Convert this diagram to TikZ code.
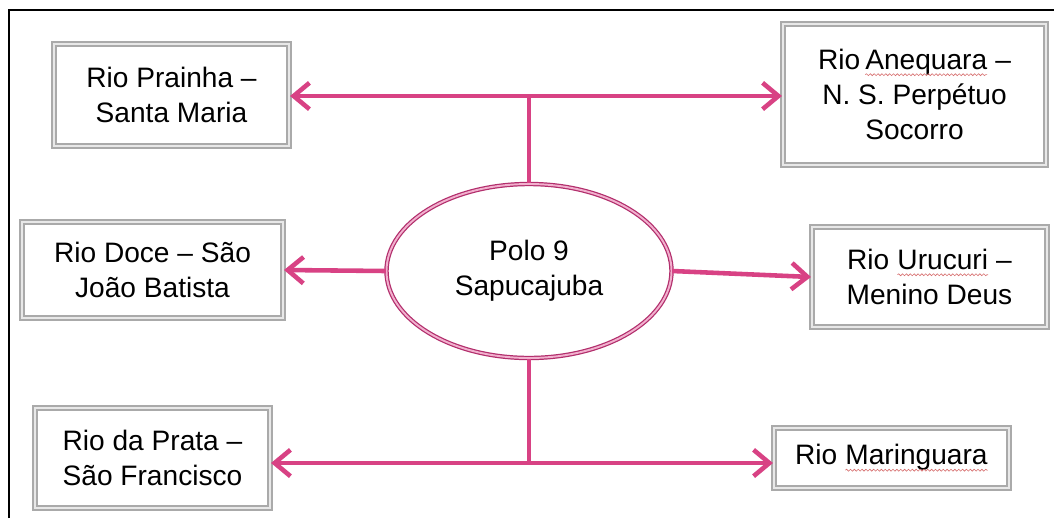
\documentclass[tikz,border=0pt]{standalone}
\usepackage{fontspec}
\setmainfont{Liberation Sans}
\usetikzlibrary{arrows.meta,shapes.geometric,decorations.pathmorphing}
\definecolor{linkpink}{RGB}{216,66,132}
\definecolor{ellline}{RGB}{178,46,108}
\definecolor{ellfill}{RGB}{242,176,206}
\definecolor{boxgray}{RGB}{170,170,170}
\definecolor{spellred}{RGB}{215,110,110}
\newcommand{\spellwave}[1]{\tikz[baseline=(w.base),x=1cm,y=1cm]{\node[inner sep=0pt,outer sep=0pt,draw=none,fill=none,double=none,rectangle,minimum width=0pt,minimum height=0pt](w){#1};
  \draw[spellred,line width=0.35pt,double=none,decorate,decoration={snake,amplitude=0.55pt,segment length=2.2pt}] ([yshift=-3pt]w.base west) -- ([yshift=-3pt]w.base east);}}
\begin{document}
\begin{tikzpicture}[x=0.02cm,y=-0.02cm,
  rbox/.style={draw=boxgray,line width=1.2pt,double=gray!18,double distance=1.1pt,
    fill=white,rectangle,align=center,inner sep=2pt,
    font=\fontsize{16}{20}\selectfont},
  link/.style={draw=linkpink,line width=2.6pt},
  linkarrow/.style={link,-{Straight Barb[length=9pt,width=15pt]}}]
\useasboundingbox (0,0) rectangle (1054,518);
\fill[white] (0,0) rectangle (1054,518);
\draw[line width=1.7pt] (9,518) -- (9,10) -- (1054,10);

\node[rbox,minimum width=235*0.02cm,minimum height=102*0.02cm] (b1) at (171.5,95) {Rio Prainha --\\Santa Maria};
\node[rbox,minimum width=263*0.02cm,minimum height=141*0.02cm] (b2) at (914.5,94.5) {Rio\,\spellwave{Anequara} --\\N. S. Perpétuo\\Socorro};
\node[rbox,minimum width=261*0.02cm,minimum height=96*0.02cm] (b3) at (152.5,270) {Rio Doce -- São\\João Batista};
\node[rbox,minimum width=235*0.02cm,minimum height=100*0.02cm] (b4) at (929.5,277) {Rio \spellwave{Urucuri} --\\Menino Deus};
\node[rbox,minimum width=235*0.02cm,minimum height=100*0.02cm] (b5) at (152.5,458) {Rio da Prata --\\São Francisco};
\node[rbox,minimum width=235*0.02cm,minimum height=60*0.02cm] (b6) at (891.5,458) {Rio \spellwave{Maringuara}};

\node[ellipse,draw=ellline,line width=0.7pt,double=ellfill,double distance=1.1pt,
  fill=white,minimum width=285*0.02cm,minimum height=174*0.02cm,align=center,
  font=\fontsize{16}{20}\selectfont] (e) at (529,271) {Polo 9\\Sapucajuba};

\coordinate (topjoin) at (529,96);
\coordinate (botjoin) at (529,463);
\draw[link] (e.north) -- (topjoin);
\draw[linkarrow] (topjoin) -- (b1.east |- topjoin);
\draw[linkarrow] (topjoin) -- (b2.west |- topjoin);
\draw[link] (e.south) -- (botjoin);
\draw[linkarrow] (botjoin) -- (b5.east |- botjoin);
\draw[linkarrow] (botjoin) -- (b6.west |- botjoin);
\draw[linkarrow] (e.west) -- (b3.east);
\draw[linkarrow] (e.east) -- (b4.west);
\end{tikzpicture}
\end{document}
